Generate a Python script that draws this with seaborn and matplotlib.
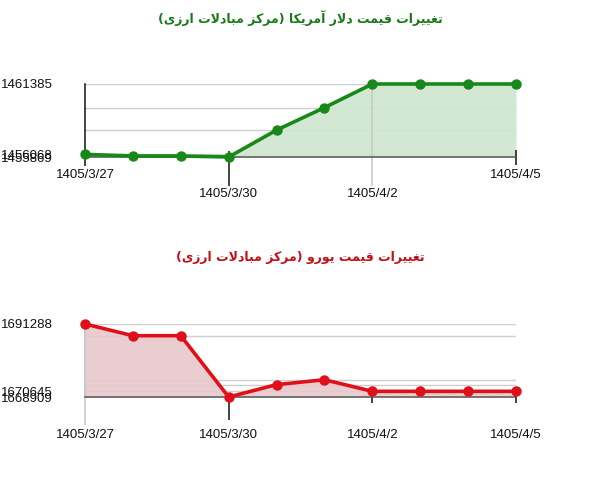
import numpy as np
import pandas as pd
import matplotlib
matplotlib.use('Agg')
import matplotlib.pyplot as plt
import seaborn as sns

# ── Data ───────────────────────────────────────────────────────────────
dates = ['1405/3/27', '1405/3/28', '1405/3/29', '1405/3/30', '1405/3/31',
         '1405/4/1', '1405/4/2', '1405/4/3', '1405/4/4', '1405/4/5']
tick_dates = ['1405/3/27', '1405/3/30', '1405/4/2', '1405/4/5']

usd = [1456068, 1455945, 1455945, 1455869, 1457903,
       1459603, 1461385, 1461385, 1461385, 1461385]
eur = [1691288, 1687700, 1687700, 1668909, 1672700,
       1674200, 1670645, 1670645, 1670645, 1670645]

usd_yticks = [1461385, 1456068, 1455869]
eur_yticks = [1691288, 1670645, 1668909]

title_usd = 'تغییرات قیمت دلار آمریکا (مرکز مبادلات ارزی)'
title_eur = 'تغییرات قیمت یورو (مرکز مبادلات ارزی)'

# ── Minimal Persian shaping (matplotlib has no bidi / joining) ─────────
FORMS = {
    'ا': (0xFE8D, 0xFE8E, None, None),
    'آ': (0xFE81, 0xFE82, None, None),
    'د': (0xFEA9, 0xFEAA, None, None),
    'ر': (0xFEAD, 0xFEAE, None, None),
    'ز': (0xFEAF, 0xFEB0, None, None),
    'و': (0xFEED, 0xFEEE, None, None),
    'ب': (0xFE8F, 0xFE90, 0xFE91, 0xFE92),
    'ت': (0xFE95, 0xFE96, 0xFE97, 0xFE98),
    'غ': (0xFECD, 0xFECE, 0xFECF, 0xFED0),
    'ق': (0xFED5, 0xFED6, 0xFED7, 0xFED8),
    'ل': (0xFEDD, 0xFEDE, 0xFEDF, 0xFEE0),
    'م': (0xFEE1, 0xFEE2, 0xFEE3, 0xFEE4),
    'ی': (0xFBFC, 0xFBFD, 0xFBFE, 0xFBFF),
    'ک': (0xFB8E, 0xFB8F, 0xFB90, 0xFB91),
}
LAMALEF = {'ا': (0xFEFB, 0xFEFC), 'آ': (0xFEF5, 0xFEF6)}
MIRROR = {'(': ')', ')': '('}


def rtl(s):
    out = []
    i = 0
    while i < len(s):
        c = s[i]
        if c not in FORMS:
            out.append(MIRROR.get(c, c))
            i += 1
            continue
        prev = s[i - 1] if i > 0 else ''
        join_prev = prev in FORMS and FORMS[prev][2] is not None
        if c == 'ل' and i + 1 < len(s) and s[i + 1] in LAMALEF:
            iso, fin = LAMALEF[s[i + 1]]
            out.append(chr(fin if join_prev else iso))
            i += 2
            continue
        nxt = s[i + 1] if i + 1 < len(s) else ''
        iso, fin, ini, med = FORMS[c]
        join_next = ini is not None and nxt in FORMS
        if join_prev and join_next:
            g = med
        elif join_prev:
            g = fin
        elif join_next:
            g = ini
        else:
            g = iso
        out.append(chr(g))
        i += 1
    return ''.join(out)[::-1]


# ── Figure ─────────────────────────────────────────────────────────────
sns.set_style('white')
plt.rcParams['font.family'] = ['Liberation Sans', 'DejaVu Sans']

W, H = 600, 480
fig = plt.figure(figsize=(6, 4.8), dpi=100)

def px_axes(top, bottom, left=85, right=516):
    return fig.add_axes([left / W, 1 - bottom / H, (right - left) / W, (bottom - top) / H])

GRAY = '#c8c8c8'
panels = [
    dict(vals=usd, yt=usd_yticks, title=title_usd, top=84, bottom=157, title_y=18,
         line='#188818', fill='#cfe6cf', tcol='#1b7a1b', left_spine='#111111',
         # (tick idx, px below axis, px above axis, colour, label offset px)
         ticks=[(0, 9, 0, '#111111', 12), (3, 29, 6, '#111111', 31),
                (6, 29, None, GRAY, 31), (9, 8, 7, '#111111', 12)]),
    dict(vals=eur, yt=eur_yticks, title=title_eur, top=324, bottom=397, title_y=258,
         line='#e0101a', fill='#e8c8cc', tcol='#c41018', left_spine=GRAY,
         ticks=[(0, 28, None, GRAY, 32), (3, 23, 0, '#111111', 32),
                (6, 6, 7, '#111111', 32), (9, 6, 7, '#111111', 32)]),
]

x = np.arange(len(dates))
for p in panels:
    ax = px_axes(p['top'], p['bottom'])
    vals = np.array(p['vals'])
    ymin, ymax = vals.min(), vals.max()
    df = pd.DataFrame({'x': x, 'v': vals})

    # gridlines at every distinct value
    for v in np.unique(vals):
        if v != ymin:
            ax.axhline(v, color='#cfcfcf', lw=1, zorder=1)

    ax.fill_between(x, vals, ymin, color=p['fill'], alpha=0.9, lw=0, zorder=2)
    sns.lineplot(data=df, x='x', y='v', color=p['line'], lw=2.6, marker='o',
                 markersize=7.5, markeredgewidth=0, ax=ax, zorder=4, clip_on=False)

    ax.set_xlim(0, len(dates) - 1)
    ax.set_ylim(ymin, ymax)
    ax.set_xlabel('')
    ax.set_ylabel('')
    ax.set_xticks([])
    ax.set_yticks(p['yt'], [str(v) for v in p['yt']])
    ax.tick_params(axis='y', length=5, width=1, pad=18, labelsize=9.5,
                   colors='#111111')
    for s in ['top', 'right']:
        ax.spines[s].set_visible(False)
    ax.spines['bottom'].set_color('#555555')
    ax.spines['bottom'].set_linewidth(1.1)
    ax.spines['left'].set_color(p['left_spine'])
    ax.spines['left'].set_linewidth(1.1)
    ax.spines['bottom'].set_zorder(3)

    axh = p['bottom'] - p['top']
    for idx, down, up, col, off in p['ticks']:
        xv = x[idx]
        top_frac = 1 if up is None else up / axh
        ax.vlines(xv, -down / axh, top_frac, transform=ax.get_xaxis_transform(),
                  color=col, lw=1.1, clip_on=False, zorder=3)
        ax.annotate(dates[idx], xy=(xv, 0), xycoords=('data', 'axes fraction'),
                    xytext=(0, -off * 0.72), textcoords='offset points',
                    ha='center', va='top', fontsize=9.5, color='#111111')

    fig.text(0.5, 1 - p['title_y'] / H, rtl(p['title']), ha='center', va='center',
             fontsize=9, fontweight='bold', color=p['tcol'], family='DejaVu Sans')

fig.savefig('out.png', dpi=100)
